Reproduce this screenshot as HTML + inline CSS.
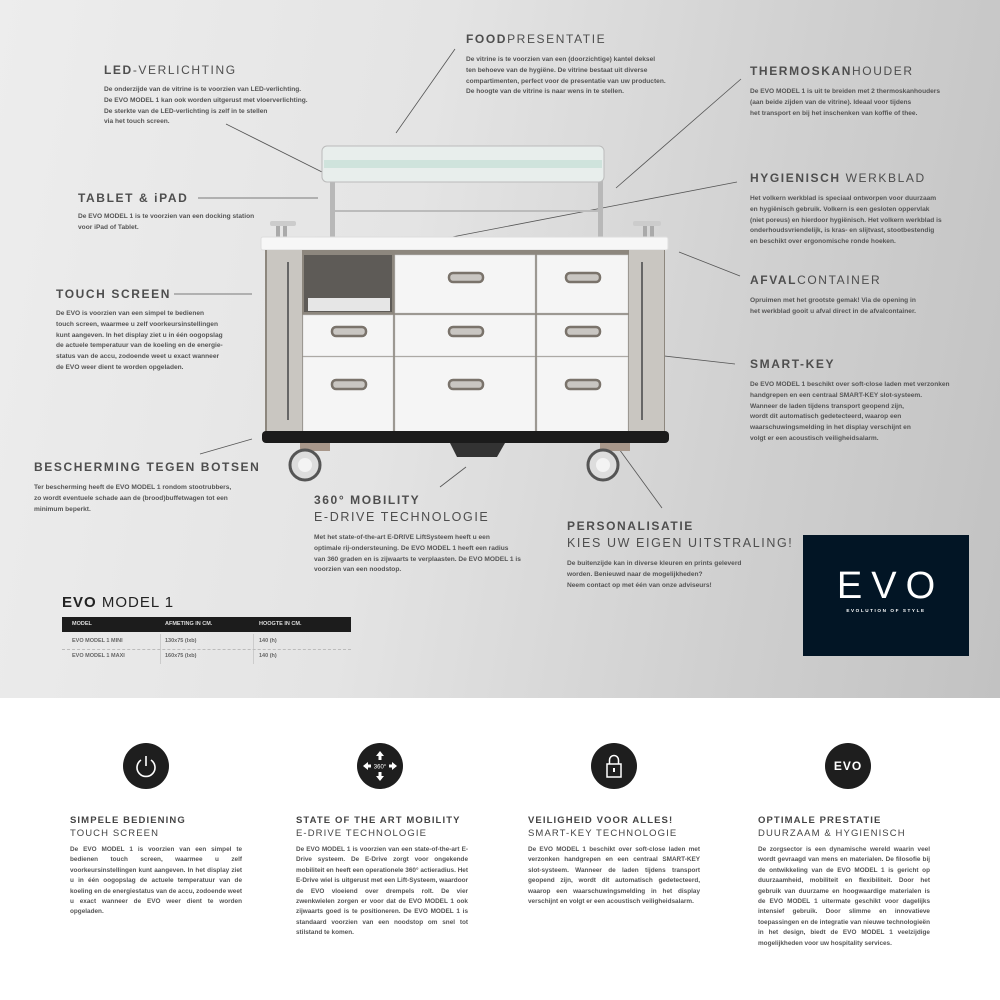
<!DOCTYPE html>
<html><head><meta charset="utf-8"><style>
*{margin:0;padding:0;box-sizing:border-box}
body{width:1000px;height:1000px;position:relative;overflow:hidden;background:#fff;font-family:"Liberation Sans",sans-serif;color:#4a4a4a}
#top{position:absolute;left:0;top:0;width:1000px;height:698px;background:linear-gradient(100deg,#ededed 0%,#e4e4e4 40%,#cfcfcf 75%,#c2c2c2 100%)}
.h{position:absolute;font-size:12px;letter-spacing:1.6px;color:#4e4e4e;white-space:nowrap}
.h b{font-weight:bold}
.h .l{font-weight:normal}
.p{position:absolute;font-size:6.6px;line-height:10.8px;font-weight:bold;color:#555;white-space:nowrap}
.bh{position:absolute;font-size:9.5px;letter-spacing:1.1px;color:#444;line-height:13px;white-space:nowrap}
.bp{position:absolute;font-size:6.4px;line-height:10.4px;font-weight:bold;color:#555;width:172px;text-align:justify}
.ic{position:absolute;width:46px;height:46px;border-radius:50%;background:#1e1e1e;color:#fff}
</style></head><body>
<div id="top"></div>
<svg style="position:absolute;left:0;top:0" width="1000" height="700">
<g stroke="#555" stroke-width="0.8" fill="none">
<line x1="226" y1="124" x2="340" y2="181"/>
<line x1="198" y1="198" x2="318" y2="198"/>
<line x1="174" y1="294" x2="252" y2="294"/>
<line x1="200" y1="454" x2="252" y2="439"/>
<line x1="455" y1="49" x2="396" y2="133"/>
<line x1="741" y1="79" x2="616" y2="188"/>
<line x1="737" y1="182" x2="452" y2="237"/>
<line x1="740" y1="276" x2="679" y2="252"/>
<line x1="735" y1="364" x2="488" y2="336"/>
<line x1="587" y1="405" x2="662" y2="508"/>
<line x1="440" y1="487" x2="466" y2="467"/>
</g>
<!-- vitrine -->
<rect x="330" y="180" width="5" height="60" fill="#b8b8b8"/>
<rect x="598" y="180" width="5" height="60" fill="#b8b8b8"/>
<rect x="335" y="210" width="263" height="2" fill="#bbb"/>
<rect x="322" y="146" width="282" height="36" rx="5" fill="#e8eeec" stroke="#bbb"/>
<rect x="324" y="160" width="278" height="8" fill="#cfe3dc"/>
<!-- thermos -->
<rect x="270" y="221" width="26" height="5" rx="2" fill="#ccc"/>
<rect x="276" y="226" width="4" height="14" fill="#aaa"/><rect x="283" y="226" width="4" height="14" fill="#aaa"/>
<rect x="633" y="221" width="28" height="5" rx="2" fill="#ccc"/>
<rect x="643" y="226" width="4" height="14" fill="#aaa"/><rect x="650" y="226" width="4" height="14" fill="#aaa"/>
<!-- countertop -->
<rect x="261" y="237" width="407" height="13" rx="2" fill="#f7f7f7" stroke="#ddd"/>
<!-- body -->
<rect x="265" y="250" width="400" height="183" fill="#8d877e"/>
<rect x="267" y="250" width="35" height="182" fill="#c9c6c1"/>
<rect x="629" y="250" width="35" height="182" fill="#c9c6c1"/>
<rect x="287" y="262" width="2" height="158" fill="#666"/>
<rect x="641" y="262" width="2" height="158" fill="#666"/>
<rect x="304" y="255" width="88" height="57" fill="#5e5b57"/>
<rect x="308" y="298" width="82" height="13" fill="#e6e6e6"/>
<g fill="#f5f5f5" stroke="#ccc" stroke-width="0.5">
<rect x="395" y="255" width="140" height="58"/><rect x="537" y="255" width="91" height="58"/>
<rect x="303" y="315" width="90" height="41"/><rect x="395" y="315" width="140" height="41"/><rect x="537" y="315" width="91" height="41"/>
<rect x="303" y="357" width="90" height="75"/><rect x="395" y="357" width="140" height="75"/><rect x="537" y="357" width="91" height="75"/>
</g>
<g fill="#c9c6c2" stroke="#7a736b" stroke-width="2.5">
<rect x="449" y="273" width="34" height="9" rx="4"/><rect x="566" y="273" width="34" height="9" rx="4"/>
<rect x="332" y="327" width="34" height="9" rx="4"/><rect x="449" y="327" width="34" height="9" rx="4"/><rect x="566" y="327" width="34" height="9" rx="4"/>
<rect x="332" y="380" width="34" height="9" rx="4"/><rect x="449" y="380" width="34" height="9" rx="4"/><rect x="566" y="380" width="34" height="9" rx="4"/>
</g>
<rect x="262" y="431" width="407" height="12" rx="4" fill="#1b1b1b"/>
<rect x="300" y="443" width="30" height="8" fill="#a8978a"/><rect x="600" y="443" width="30" height="8" fill="#a8978a"/>
<path d="M450 443 h55 l-8 14 h-40 z" fill="#333"/>
<circle cx="305" cy="465" r="15" fill="#ddd" stroke="#555" stroke-width="3"/><circle cx="305" cy="465" r="7" fill="#f3f3f3"/>
<circle cx="603" cy="465" r="15" fill="#ddd" stroke="#555" stroke-width="3"/><circle cx="603" cy="465" r="7" fill="#f3f3f3"/>
</svg>

<div class="h" style="left:104px;top:63px"><b>LED</b><span class="l">-VERLICHTING</span></div>
<div class="p" style="left:104px;top:85px">De onderzijde van de vitrine is te voorzien van LED-verlichting.<br>De EVO MODEL 1 kan ook worden uitgerust met vloerverlichting.<br>De sterkte van de LED-verlichting is zelf in te stellen<br>via het touch screen.</div>
<div class="h" style="left:78px;top:191px"><b>TABLET &amp; iPAD</b></div>
<div class="p" style="left:78px;top:212px">De EVO MODEL 1 is te voorzien van een docking station<br>voor iPad of Tablet.</div>
<div class="h" style="left:56px;top:287px"><b>TOUCH SCREEN</b></div>
<div class="p" style="left:56px;top:309px">De EVO is voorzien van een simpel te bedienen<br>touch screen, waarmee u zelf voorkeursinstellingen<br>kunt aangeven. In het display ziet u in één oogopslag<br>de actuele temperatuur van de koeling en de energie-<br>status van de accu, zodoende weet u exact wanneer<br>de EVO weer dient te worden opgeladen.</div>
<div class="h" style="left:34px;top:460px"><b>BESCHERMING TEGEN BOTSEN</b></div>
<div class="p" style="left:34px;top:483px">Ter bescherming heeft de EVO MODEL 1 rondom stootrubbers,<br>zo wordt eventuele schade aan de (brood)buffetwagen tot een<br>minimum beperkt.</div>
<div class="h" style="left:466px;top:32px"><b>FOOD</b><span class="l">PRESENTATIE</span></div>
<div class="p" style="left:466px;top:55px">De vitrine is te voorzien van een (doorzichtige) kantel deksel<br>ten behoeve van de hygiëne. De vitrine bestaat uit diverse<br>compartimenten, perfect voor de presentatie van uw producten.<br>De hoogte van de vitrine is naar wens in te stellen.</div>
<div class="h" style="left:750px;top:64px"><b>THERMOSKAN</b><span class="l">HOUDER</span></div>
<div class="p" style="left:750px;top:87px">De EVO MODEL 1 is uit te breiden met 2 thermoskanhouders<br>(aan beide zijden van de vitrine). Ideaal voor tijdens<br>het transport en bij het inschenken van koffie of thee.</div>
<div class="h" style="left:750px;top:171px"><b>HYGIENISCH</b> <span class="l">WERKBLAD</span></div>
<div class="p" style="left:750px;top:194px">Het volkern werkblad is speciaal ontworpen voor duurzaam<br>en hygiënisch gebruik. Volkern is een gesloten oppervlak<br>(niet poreus) en hierdoor hygiënisch. Het volkern werkblad is<br>onderhoudsvriendelijk, is kras- en slijtvast, stootbestendig<br>en beschikt over ergonomische ronde hoeken.</div>
<div class="h" style="left:750px;top:273px"><b>AFVAL</b><span class="l">CONTAINER</span></div>
<div class="p" style="left:750px;top:296px">Opruimen met het grootste gemak! Via de opening in<br>het werkblad gooit u afval direct in de afvalcontainer.</div>
<div class="h" style="left:750px;top:357px"><b>SMART-KEY</b></div>
<div class="p" style="left:750px;top:380px">De EVO MODEL 1 beschikt over soft-close laden met verzonken<br>handgrepen en een centraal SMART-KEY slot-systeem.<br>Wanneer de laden tijdens transport geopend zijn,<br>wordt dit automatisch gedetecteerd, waarop een<br>waarschuwingsmelding in het display verschijnt en<br>volgt er een acoustisch veiligheidsalarm.</div>
<div class="h" style="left:314px;top:493px"><b>360° MOBILITY</b></div>
<div class="h" style="left:314px;top:510px;font-size:12.5px"><span class="l">E-DRIVE TECHNOLOGIE</span></div>
<div class="p" style="left:314px;top:533px">Met het state-of-the-art E-DRIVE LiftSysteem heeft u een<br>optimale rij-ondersteuning. De EVO MODEL 1 heeft een radius<br>van 360 graden en is zijwaarts te verplaasten. De EVO MODEL 1 is<br>voorzien van een noodstop.</div>
<div class="h" style="left:567px;top:519px"><b>PERSONALISATIE</b></div>
<div class="h" style="left:567px;top:536px;font-size:12.5px"><span class="l">KIES UW EIGEN UITSTRALING!</span></div>
<div class="p" style="left:567px;top:559px">De buitenzijde kan in diverse kleuren en prints geleverd<br>worden. Benieuwd naar de mogelijkheden?<br>Neem contact op met één van onze adviseurs!</div>

<div style="position:absolute;left:62px;top:594px;font-size:15px;letter-spacing:1px;color:#222"><b>EVO</b> MODEL 1</div>
<div style="position:absolute;left:62px;top:617px;width:289px;height:15px;background:#1c1c1c;color:#ddd;font-size:5.5px;font-weight:bold;line-height:15px">
<span style="position:absolute;left:10px">MODEL</span><span style="position:absolute;left:103px">AFMETING IN CM.</span><span style="position:absolute;left:197px">HOOGTE IN CM.</span></div>
<div style="position:absolute;left:62px;top:634px;width:289px;height:30px;font-size:5.5px;font-weight:bold;color:#666;line-height:15px">
<div style="position:absolute;left:98px;top:0;width:1px;height:30px;background:#ccc"></div>
<div style="position:absolute;left:191px;top:0;width:1px;height:30px;background:#ccc"></div>
<div style="position:absolute;left:0;top:15px;width:289px;border-top:1px dashed #bbb"></div>
<span style="position:absolute;left:10px;top:0">EVO MODEL 1 MINI</span><span style="position:absolute;left:103px;top:0">130x75 (lxb)</span><span style="position:absolute;left:197px;top:0">140 (h)</span>
<span style="position:absolute;left:10px;top:15px">EVO MODEL 1 MAXI</span><span style="position:absolute;left:103px;top:15px">160x75 (lxb)</span><span style="position:absolute;left:197px;top:15px">140 (h)</span></div>

<div style="position:absolute;left:803px;top:535px;width:166px;height:121px;background:#021525;color:#fff;text-align:center">
<div style="margin-top:31px;font-size:38px;letter-spacing:9px;line-height:40px;padding-left:9px">EVO</div>
<div style="font-size:4.6px;letter-spacing:1.6px;font-weight:bold;margin-top:2px">EVOLUTION OF STYLE</div></div>

<div class="ic" style="left:123px;top:743px"><svg width="46" height="46"><path d="M18 17 A9 9 0 1 0 28 17" stroke="#fff" stroke-width="1.6" fill="none"/><line x1="23" y1="13" x2="23" y2="23" stroke="#fff" stroke-width="1.6"/></svg></div>
<div class="ic" style="left:357px;top:743px"><svg width="46" height="46" fill="#fff"><path d="M23 8 l4 5 h-2.5 v4 h-3 v-4 h-2.5z"/><path d="M23 38 l4 -5 h-2.5 v-4 h-3 v4 h-2.5z"/><path d="M6 23 l5 -4 v2.5 h3 v3 h-3 v2.5z"/><path d="M40 23 l-5 -4 v2.5 h-3 v3 h3 v2.5z"/><text x="23" y="25.5" font-size="6" text-anchor="middle" font-family="Liberation Sans">360°</text></svg></div>
<div class="ic" style="left:591px;top:743px"><svg width="46" height="46"><rect x="16" y="21" width="14" height="13" stroke="#fff" stroke-width="1.5" fill="none"/><path d="M18.5 21 v-4 a4.5 4.5 0 0 1 9 0 v4" stroke="#fff" stroke-width="1.5" fill="none"/><rect x="22" y="25" width="2" height="4" fill="#fff"/></svg></div>
<div class="ic" style="left:825px;top:743px;text-align:center;line-height:46px;font-size:12px;font-weight:bold;letter-spacing:1px">EVO</div>

<div class="bh" style="left:70px;top:814px"><b>SIMPELE BEDIENING</b><br>TOUCH SCREEN</div>
<div class="bp" style="left:70px;top:845px">De EVO MODEL 1 is voorzien van een simpel te bedienen touch screen, waarmee u zelf voorkeursinstellingen kunt aangeven. In het display ziet u in één oogopslag de actuele temperatuur van de koeling en de energiestatus van de accu, zodoende weet u exact wanneer de EVO weer dient te worden opgeladen.</div>
<div class="bh" style="left:296px;top:814px"><b>STATE OF THE ART MOBILITY</b><br>E-DRIVE TECHNOLOGIE</div>
<div class="bp" style="left:296px;top:845px">De EVO MODEL 1 is voorzien van een state-of-the-art E-Drive systeem. De E-Drive zorgt voor ongekende mobiliteit en heeft een operationele 360° actieradius. Het E-Drive wiel is uitgerust met een Lift-Systeem, waardoor de EVO vloeiend over drempels rolt. De vier zwenkwielen zorgen er voor dat de EVO MODEL 1 ook zijwaarts goed is te positioneren. De EVO MODEL 1 is standaard voorzien van een noodstop om snel tot stilstand te komen.</div>
<div class="bh" style="left:528px;top:814px"><b>VEILIGHEID VOOR ALLES!</b><br>SMART-KEY TECHNOLOGIE</div>
<div class="bp" style="left:528px;top:845px">De EVO MODEL 1 beschikt over soft-close laden met verzonken handgrepen en een centraal SMART-KEY slot-systeem. Wanneer de laden tijdens transport geopend zijn, wordt dit automatisch gedetecteerd, waarop een waarschuwingsmelding in het display verschijnt en volgt er een acoustisch veiligheidsalarm.</div>
<div class="bh" style="left:758px;top:814px"><b>OPTIMALE PRESTATIE</b><br>DUURZAAM &amp; HYGIENISCH</div>
<div class="bp" style="left:758px;top:845px">De zorgsector is een dynamische wereld waarin veel wordt gevraagd van mens en materialen. De filosofie bij de ontwikkeling van de EVO MODEL 1 is gericht op duurzaamheid, mobiliteit en flexibiliteit. Door het gebruik van duurzame en hoogwaardige materialen is de EVO MODEL 1 uitermate geschikt voor dagelijks intensief gebruik. Door slimme en innovatieve toepassingen en de integratie van nieuwe technologieën in het design, biedt de EVO MODEL 1 veelzijdige mogelijkheden voor uw hospitality services.</div>
</body></html>
